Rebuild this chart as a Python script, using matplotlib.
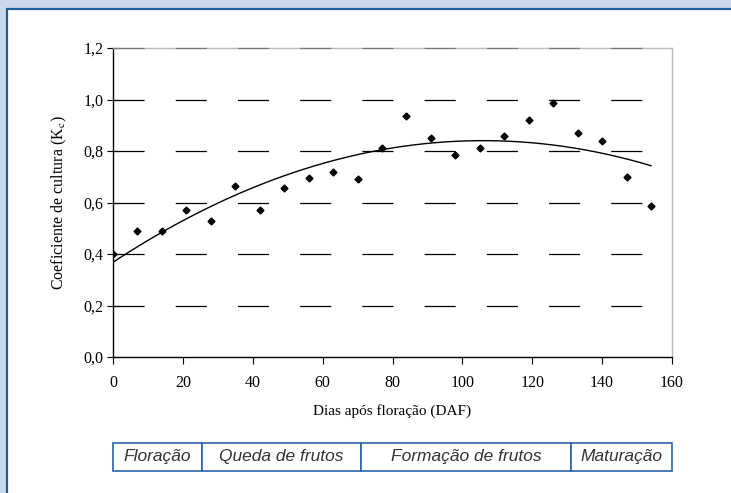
import numpy as np
import matplotlib
matplotlib.use("Agg")
import matplotlib.pyplot as plt
from matplotlib.patches import Rectangle
from matplotlib.transforms import blended_transform_factory

# dados
dias = [0, 7, 14, 21, 28, 35, 42, 49, 56, 63, 70, 77, 84, 91, 98, 105, 112, 119, 126, 133, 140, 147, 154]
kc = [0.40, 0.49, 0.49, 0.57, 0.53, 0.665, 0.57, 0.655, 0.695, 0.718, 0.692, 0.81, 0.935,
      0.852, 0.784, 0.81, 0.86, 0.922, 0.988, 0.868, 0.838, 0.70, 0.585]
x_ticks = [0, 20, 40, 60, 80, 100, 120, 140, 160]
y_ticks = [0.0, 0.2, 0.4, 0.6, 0.8, 1.0, 1.2]
fases = ["Floração", "Queda de frutos", "Formação de frutos", "Maturação"]
limites_fases = [0, 25.5, 71, 131, 160]

plt.rcParams['mathtext.fontset'] = 'stix'
serif = ['Liberation Serif', 'DejaVu Serif']

fig = plt.figure(figsize=(7.31, 4.93), dpi=100, facecolor='#C9D8EA')
# painel branco com borda azul
fig.patches.append(Rectangle((6.5 / 731, -0.1), 1.1, 1 - 9 / 493 + 0.1,
                             transform=fig.transFigure, facecolor='white',
                             edgecolor='#1F5C9C', linewidth=1.6, zorder=-10))

ax = fig.add_axes([113 / 731, 1 - 357 / 493, (672 - 113) / 731, (357 - 48) / 493])
ax.set_facecolor('white')
ax.set_xlim(0, 160)
ax.set_ylim(0, 1.2)

# linhas de grade tracejadas
lw = 0.9
for v in y_ticks[1:]:
    cor = '#7A7A7A' if v == y_ticks[-1] else 'black'
    ax.axhline(v, color=cor, linewidth=lw, dashes=(22.4 / lw, 22.4 / lw),
               zorder=3 if v == y_ticks[-1] else 1, clip_on=False)

# linha de tendencia polinomial (2a ordem) ajustada aos pontos
coef = np.polyfit(dias, kc, 2)
xs = np.linspace(dias[0], dias[-1], 200)
ax.plot(xs, np.polyval(coef, xs), color='black', linewidth=1.0, zorder=2)

ax.plot(dias, kc, linestyle='none', marker='D', markersize=3.5, color='black', zorder=3)

ax.set_xticks(x_ticks)
ax.set_yticks(y_ticks)
ax.set_yticklabels([f"{v:.1f}".replace('.', ',') for v in y_ticks])
ax.tick_params(axis='y', direction='inout', length=8, width=0.8, pad=3)
ax.tick_params(axis='x', direction='out', length=5, width=0.8, pad=8)
for lab in ax.get_xticklabels() + ax.get_yticklabels():
    lab.set_family(serif)
    lab.set_fontsize(11.5)

ax.spines['left'].set_color('black')
ax.spines['bottom'].set_color('black')
ax.spines['top'].set_color('#BBBBBB')
ax.spines['right'].set_color('#BBBBBB')
for s in ax.spines.values():
    s.set_linewidth(1.0)

ax.set_xlabel('Dias após floração (DAF)', family=serif, fontsize=11, labelpad=9)
ax.set_ylabel('Coeficiente de cultura (K$_\\mathrm{c}$)', family=serif, fontsize=11.5, labelpad=10)

# tabela de fases abaixo do eixo
tr = blended_transform_factory(ax.transData, fig.transFigure)
y0 = 1 - 471 / 493
h = (471 - 443) / 493
for i, nome in enumerate(fases):
    a, b = limites_fases[i], limites_fases[i + 1]
    fig.patches.append(Rectangle((a, y0), b - a, h, transform=tr, facecolor='white',
                                 edgecolor='#2A64A8', linewidth=1.2, zorder=2))
    fig.text((a + b) / 2, y0 + h / 2, nome, transform=tr, ha='center', va='center',
             fontsize=12.5, style='italic', family='Liberation Sans', color='#333333')

fig.savefig('out.png', dpi=100, facecolor=fig.get_facecolor())
